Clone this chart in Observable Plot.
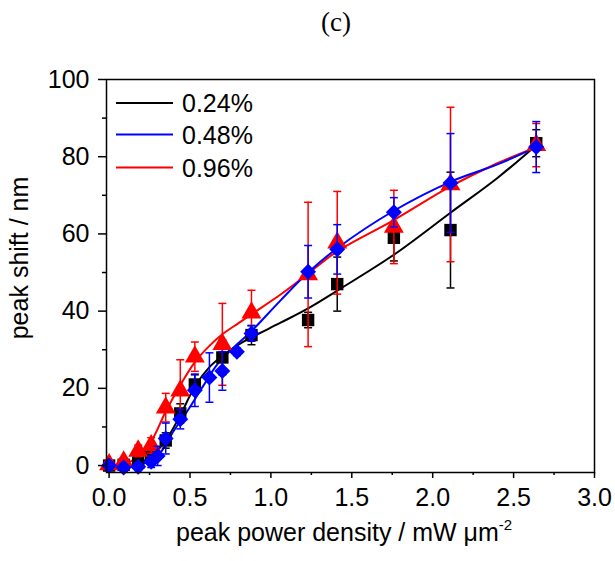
<!DOCTYPE html>
<html><head><meta charset="utf-8">
<script src="https://cdn.jsdelivr.net/npm/d3@7"></script>
<script src="https://cdn.jsdelivr.net/npm/@observablehq/plot@0.6"></script>
<style>
body{margin:0;background:#fff;}
#wrap{position:relative;width:615px;height:561px;}
#wrap svg.ov{position:absolute;left:0;top:0;pointer-events:none;}
</style></head><body><div id="wrap"></div>
<script>
// ---- text / categories ----
const titleText = "(c)";
const xLabel = "peak power density / mW μm";
const xLabelSup = "-2";
const yLabel = "peak shift / nm";
const seriesNames = ["0.24%", "0.48%", "0.96%"];
const seriesColors = ["#000000", "#0000ff", "#ff0000"];
const xTicks = [0, 0.5, 1, 1.5, 2, 2.5, 3];
const xMinorTicks = [0.25, 0.75, 1.25, 1.75, 2.25, 2.75];
const yTicks = [0, 20, 40, 60, 80, 100];
const yMinorTicks = [10, 30, 50, 70, 90];

// ---- 0.24% (black squares) ----
const blackX   = [0, 0.09, 0.18, 0.26, 0.35, 0.44, 0.53, 0.70, 0.88, 1.23, 1.41, 1.76, 2.11, 2.64];
const blackY   = [0, 0.2, 0.8, 3, 6.5, 13.5, 21, 28, 33.8, 37.7, 47, 59, 61, 83.5];
const blackErr = [0.5, 0.8, 1, 1.5, 2, 2.5, 2.5, 4.5, 2.5, 2, 7, 6, 15, 3.5];
// ---- 0.48% (blue diamonds) ----
const blueX   = [0, 0.09, 0.18, 0.26, 0.30, 0.35, 0.44, 0.53, 0.62, 0.70, 0.79, 0.88, 1.23, 1.41, 1.76, 2.11, 2.64];
const blueY   = [0, -0.5, -0.3, 1, 2.5, 7, 12, 19.5, 22.8, 24.5, 29.5, 34.2, 50.2, 56, 65.6, 73.2, 82.5];
const blueErr = [1, 1, 1, 1.5, 2.5, 4, 2.5, 4.2, 6.4, 5, 1, 2, 6.8, 6.4, 3.8, 12.8, 6.6];
// ---- 0.96% (red triangles) ----
const redX   = [0, 0.09, 0.18, 0.26, 0.35, 0.44, 0.53, 0.70, 0.88, 1.23, 1.41, 1.76, 2.11, 2.64];
const redY   = [0.3, 1, 3.8, 5.2, 15, 19.4, 28.2, 31.4, 39.6, 49.5, 57.7, 61.8, 72.8, 83];
const redErr = [1, 1, 1.5, 2, 3.7, 8, 3.8, 10.6, 5.8, 18.7, 13.3, 9.5, 20, 5.6];

// ---- fitted curves ----
const blackFitX = [0, 0.15, 0.25, 0.35, 0.44, 0.53, 0.62, 0.70, 0.80, 0.88, 1.06, 1.23, 1.41, 1.76, 2.11, 2.40, 2.64];
const blackFitY = [0, 0.3, 2, 6.5, 13, 20.5, 25.5, 28.4, 31.3, 33.2, 37, 40.7, 45.3, 54.6, 65.5, 74.5, 83];
const blueFitX = [0, 0.15, 0.25, 0.32, 0.40, 0.49, 0.58, 0.67, 0.78, 0.87, 1.06, 1.23, 1.41, 1.76, 2.11, 2.40, 2.64];
const blueFitY = [0, 0.2, 1, 3.5, 9, 14.5, 20.5, 26.3, 31, 34.4, 42.8, 50, 56.3, 66, 73.5, 78, 82.5];
const redFitX = [0, 0.10, 0.20, 0.27, 0.35, 0.44, 0.53, 0.62, 0.70, 0.80, 0.88, 1.06, 1.23, 1.41, 1.76, 2.11, 2.40, 2.64];
const redFitY = [0, 0.5, 3, 7, 14, 20.8, 26.8, 31, 34, 36.9, 39.2, 44.3, 49.7, 55.5, 63.6, 72.3, 78.3, 82.5];

const rows = (xs, ys, es) => xs.map((x, i) => ({x, y: ys[i], e: es[i]}));
const fit = (xs, ys) => xs.map((x, i) => ({x, y: ys[i]}));

const series = [
  {pts: rows(blackX, blackY, blackErr), fit: fit(blackFitX, blackFitY), color: seriesColors[0], symbol: "square", r: 7},
  {pts: rows(redX, redY, redErr), fit: fit(redFitX, redFitY), color: seriesColors[2], symbol: "triangle", r: 7.4},
  {pts: rows(blueX, blueY, blueErr), fit: fit(blueFitX, blueFitY), color: seriesColors[1], symbol: "diamond2", r: 7.2}
];

const cap = {draw(ctx) { ctx.moveTo(-4, 0); ctx.lineTo(4, 0); }};

const marks = [];
for (const s of series) {
  marks.push(Plot.line(s.fit, {x: "x", y: "y", stroke: s.color, strokeWidth: 2, curve: "catmull-rom"}));
}
for (const s of series) {
  marks.push(Plot.ruleX(s.pts, {x: "x", y1: d => d.y - d.e, y2: d => d.y + d.e, stroke: s.color, strokeWidth: 1.5}));
  marks.push(Plot.dot(s.pts, {x: "x", y: d => d.y + d.e, symbol: cap, fill: "none", stroke: s.color, strokeWidth: 1.5}));
  marks.push(Plot.dot(s.pts, {x: "x", y: d => d.y - d.e, symbol: cap, fill: "none", stroke: s.color, strokeWidth: 1.5}));
  marks.push(Plot.dot(s.pts, {x: "x", y: "y", symbol: s.symbol, r: s.r, fill: s.color, stroke: "none"}));
}
marks.push(Plot.frame({stroke: "#000", strokeWidth: 1.5}));
marks.push(Plot.axisY({ticks: yTicks, tickSize: 8, tickPadding: 9, fontSize: 25, strokeWidth: 1.5, label: null}));
marks.push(Plot.axisY({ticks: yMinorTicks, tickSize: 4, tickFormat: () => "", strokeWidth: 1.5, label: null}));
marks.push(Plot.axisX({ticks: xTicks, tickSize: 6, tickPadding: 10, fontSize: 25, strokeWidth: 1.5, tickFormat: d3.format(".1f"), label: null}));
marks.push(Plot.axisX({ticks: xMinorTicks, tickSize: 3, tickFormat: () => "", strokeWidth: 1.5, label: null}));

const chart = Plot.plot({
  width: 615, height: 561,
  marginLeft: 106, marginRight: 21, marginTop: 79, marginBottom: 89,
  x: {domain: [-0.016, 3.0]},
  y: {domain: [-1.8, 100]},
  style: {fontFamily: '"Liberation Sans", Arial, sans-serif', color: "#000", background: "#fff"},
  marks
});
const wrap = document.getElementById("wrap");
wrap.appendChild(chart);

// overlay: title, axis labels, legend
const NS = "http://www.w3.org/2000/svg";
const ov = document.createElementNS(NS, "svg");
ov.setAttribute("class", "ov");
ov.setAttribute("width", 615); ov.setAttribute("height", 561);
ov.setAttribute("font-family", '"Liberation Sans", Arial, sans-serif');
function el(tag, attrs, text) {
  const e = document.createElementNS(NS, tag);
  for (const k in attrs) e.setAttribute(k, attrs[k]);
  if (text != null) e.textContent = text;
  return e;
}
ov.appendChild(el("text", {x: 336, y: 31, "text-anchor": "middle", "font-family": '"Liberation Serif", "Times New Roman", serif', "font-size": 27}, titleText));
const xl = el("text", {x: 176, y: 541, "font-size": 25}, xLabel);
xl.appendChild(el("tspan", {dy: -11, "font-size": 15}, xLabelSup));
ov.appendChild(xl);
ov.appendChild(el("text", {transform: "translate(28,258) rotate(-90)", "text-anchor": "middle", "font-size": 25}, yLabel));
const legY = [103, 134.5, 167.5];
seriesNames.forEach((name, i) => {
  ov.appendChild(el("line", {x1: 116, x2: 173, y1: legY[i], y2: legY[i], stroke: seriesColors[i], "stroke-width": 2}));
  ov.appendChild(el("text", {x: 182, y: legY[i] + 9, "font-size": 25}, name));
});
wrap.appendChild(ov);
</script></body></html>
